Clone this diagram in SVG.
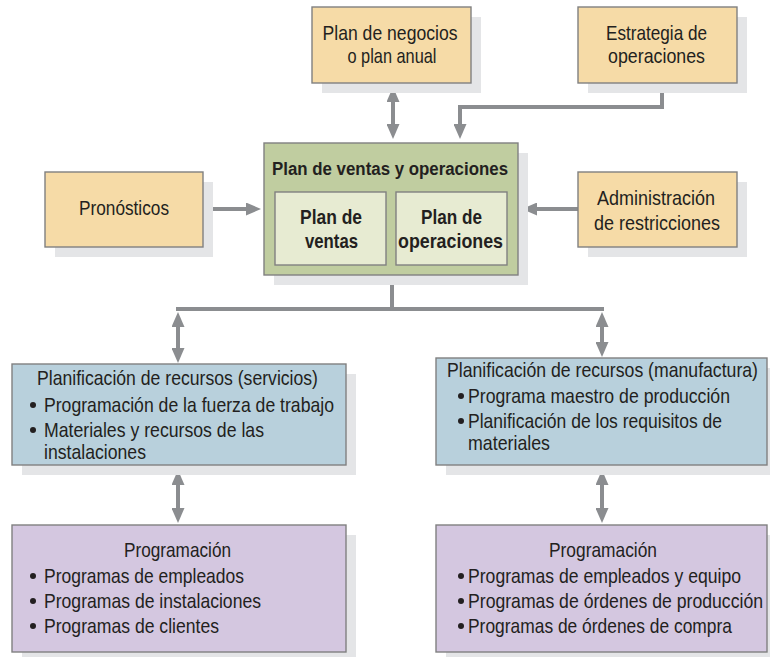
<svg xmlns="http://www.w3.org/2000/svg" width="770" height="657" viewBox="0 0 770 657">
<style>
text{font-family:"Liberation Sans Narrow","Liberation Sans",Arial,sans-serif;font-size:21px;fill:#231f20}
.c{text-anchor:middle}
.b{font-weight:bold}
.t{font-size:18px}
.sh{fill:#e4e5e7}
.box{stroke:#808080;stroke-width:1.4}
.or{fill:#f6dba7}
.gr{fill:#c0cda0}
.in{fill:#e7ebd2}
.bl{fill:#b8d0dc}
.pu{fill:#d4c7e0}
.ln{fill:none;stroke:#8b8d90;stroke-width:4}
.dot{fill:#231f20}
</style>
<defs>
<marker id="ah" markerUnits="userSpaceOnUse" markerWidth="15" markerHeight="13" refX="5" refY="6.5" orient="auto-start-reverse" viewBox="0 0 15 13">
<path d="M0,0 L15,6.5 L0,13 z" fill="#8b8d90"/>
</marker>
</defs>

<g id="connectors">
<line class="ln" x1="393" y1="97" x2="393" y2="129" marker-start="url(#ah)" marker-end="url(#ah)"/>
<path class="ln" d="M662,83 V107 H460 V129" marker-end="url(#ah)"/>
<path class="ln" d="M203,209 H251" marker-end="url(#ah)"/>
<path class="ln" d="M578,209 H532" marker-end="url(#ah)"/>
<path class="ln" d="M392,275 V309 M176,309 H604"/>
<line class="ln" x1="178" y1="322" x2="178" y2="353" marker-start="url(#ah)" marker-end="url(#ah)"/>
<line class="ln" x1="602" y1="322" x2="602" y2="347" marker-start="url(#ah)" marker-end="url(#ah)"/>
<line class="ln" x1="178" y1="480" x2="178" y2="513" marker-start="url(#ah)" marker-end="url(#ah)"/>
<line class="ln" x1="602" y1="480" x2="602" y2="513" marker-start="url(#ah)" marker-end="url(#ah)"/>
</g>

<g id="plan-negocios">
<rect class="sh" x="322" y="17" width="159" height="76"/>
<rect class="box or" x="312" y="7" width="159" height="76"/>
<text class="c" x="390" y="40" textLength="135" lengthAdjust="spacingAndGlyphs">Plan de negocios</text>
<text class="c" x="392" y="63" textLength="89" lengthAdjust="spacingAndGlyphs">o plan anual</text>
</g>

<g id="estrategia">
<rect class="sh" x="588" y="17" width="159" height="76"/>
<rect class="box or" x="578" y="7" width="159" height="76"/>
<text class="c" x="656.5" y="40" textLength="101" lengthAdjust="spacingAndGlyphs">Estrategia de</text>
<text class="c" x="656.5" y="63" textLength="97" lengthAdjust="spacingAndGlyphs">operaciones</text>
</g>

<g id="pronosticos">
<rect class="sh" x="55" y="182" width="158" height="75"/>
<rect class="box or" x="45" y="172" width="158" height="75"/>
<text class="c" x="124" y="215" textLength="90" lengthAdjust="spacingAndGlyphs">Pronósticos</text>
</g>

<g id="administracion">
<rect class="sh" x="588" y="182" width="159" height="75"/>
<rect class="box or" x="578" y="172" width="159" height="75"/>
<text class="c" x="656" y="205" textLength="118" lengthAdjust="spacingAndGlyphs">Administración</text>
<text class="c" x="657" y="230" textLength="126" lengthAdjust="spacingAndGlyphs">de restricciones</text>
</g>

<g id="plan-ventas-operaciones">
<rect class="sh" x="274" y="153" width="254" height="132"/>
<rect class="box gr" x="264" y="143" width="254" height="132"/>
<text class="c b t" x="390" y="175" textLength="236" lengthAdjust="spacingAndGlyphs">Plan de ventas y operaciones</text>
<g id="plan-ventas">
<rect class="box in" x="275" y="192" width="111" height="73"/>
<text class="c b" x="331" y="224" textLength="62" lengthAdjust="spacingAndGlyphs">Plan de</text>
<text class="c b" x="331.5" y="248" textLength="53" lengthAdjust="spacingAndGlyphs">ventas</text>
</g>
<g id="plan-operaciones">
<rect class="box in" x="396" y="192" width="111" height="73"/>
<text class="c b" x="451.5" y="224" textLength="61" lengthAdjust="spacingAndGlyphs">Plan de</text>
<text class="c b" x="450.5" y="248" textLength="105" lengthAdjust="spacingAndGlyphs">operaciones</text>
</g>
</g>

<g id="recursos-servicios">
<rect class="sh" x="22" y="374" width="334" height="101"/>
<rect class="box bl" x="12" y="364" width="334" height="101"/>
<text x="37" y="385" textLength="281" lengthAdjust="spacingAndGlyphs">Planificación de recursos (servicios)</text>
<circle class="dot" cx="33" cy="405" r="3"/>
<text x="44" y="412" textLength="290" lengthAdjust="spacingAndGlyphs">Programación de la fuerza de trabajo</text>
<circle class="dot" cx="33" cy="430" r="3"/>
<text x="44" y="437" textLength="220" lengthAdjust="spacingAndGlyphs">Materiales y recursos de las</text>
<text x="44" y="459" textLength="102" lengthAdjust="spacingAndGlyphs">instalaciones</text>
</g>

<g id="recursos-manufactura">
<rect class="sh" x="446" y="368" width="324" height="107"/>
<rect class="box bl" x="436" y="358" width="331" height="107"/>
<text x="447" y="377" textLength="311" lengthAdjust="spacingAndGlyphs">Planificación de recursos (manufactura)</text>
<circle class="dot" cx="461" cy="396" r="3"/>
<text x="468" y="403" textLength="262" lengthAdjust="spacingAndGlyphs">Programa maestro de producción</text>
<circle class="dot" cx="461" cy="421" r="3"/>
<text x="468" y="428" textLength="254" lengthAdjust="spacingAndGlyphs">Planificación de los requisitos de</text>
<text x="468" y="450" textLength="82" lengthAdjust="spacingAndGlyphs">materiales</text>
</g>

<g id="programacion-servicios">
<rect class="sh" x="22" y="535" width="334" height="122"/>
<rect class="box pu" x="12" y="525" width="334" height="127"/>
<text x="124" y="557" textLength="107" lengthAdjust="spacingAndGlyphs">Programación</text>
<circle class="dot" cx="33" cy="576" r="3"/>
<text x="44" y="583" textLength="200" lengthAdjust="spacingAndGlyphs">Programas de empleados</text>
<circle class="dot" cx="33" cy="601" r="3"/>
<text x="44" y="608" textLength="217" lengthAdjust="spacingAndGlyphs">Programas de instalaciones</text>
<circle class="dot" cx="33" cy="626" r="3"/>
<text x="44" y="633" textLength="175" lengthAdjust="spacingAndGlyphs">Programas de clientes</text>
</g>

<g id="programacion-manufactura">
<rect class="sh" x="446" y="535" width="324" height="122"/>
<rect class="box pu" x="436" y="525" width="331" height="127"/>
<text x="549" y="557" textLength="108" lengthAdjust="spacingAndGlyphs">Programación</text>
<circle class="dot" cx="461" cy="576" r="3"/>
<text x="468" y="583" textLength="273" lengthAdjust="spacingAndGlyphs">Programas de empleados y equipo</text>
<circle class="dot" cx="461" cy="601" r="3"/>
<text x="468" y="608" textLength="295" lengthAdjust="spacingAndGlyphs">Programas de órdenes de producción</text>
<circle class="dot" cx="461" cy="626" r="3"/>
<text x="468" y="633" textLength="264" lengthAdjust="spacingAndGlyphs">Programas de órdenes de compra</text>
</g>
</svg>
